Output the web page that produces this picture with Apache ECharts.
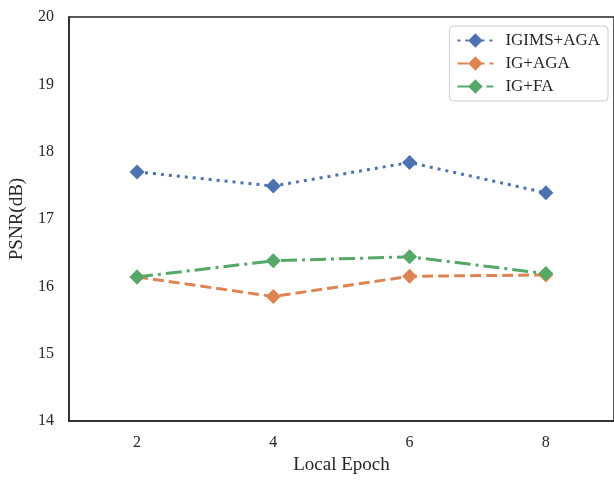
<!DOCTYPE html>
<html>
<head>
<meta charset="utf-8">
<script src="https://cdn.jsdelivr.net/npm/echarts@6/dist/echarts.min.js"></script>
<style>html,body{margin:0;padding:0;background:#fff}#c{width:614px;height:480px}</style>
</head>
<body>
<div id="c"></div>
<script>
const categories = ['2', '4', '6', '8'];
const igimsAga = [17.70, 17.49, 17.84, 17.39];
const igAga = [16.14, 15.85, 16.15, 16.17];
const igFa = [16.14, 16.38, 16.44, 16.19];
const yTicks = [14, 15, 16, 17, 18, 19, 20];

const font = 'Liberation Serif, Times New Roman, serif';
const axisColor = '#262626';

const chart = echarts.init(document.getElementById('c'));
chart.setOption({
  animation: false,
  backgroundColor: '#fff',
  textStyle: { fontFamily: font },
  grid: { left: 64, right: -2, top: 17, bottom: 51, show: true, borderColor: axisColor, borderWidth: 1.5 },
  legend: {
    right: 6, top: 26, orient: 'vertical',
    itemWidth: 36, itemHeight: 18, itemGap: 6,
    padding: [6, 8, 6, 7],
    borderColor: '#cccccc', borderWidth: 1, borderRadius: 4,
    backgroundColor: '#fff',
    textStyle: { fontFamily: font, fontSize: 17, color: axisColor, padding: [0, 0, 0, 7] },
    data: ['IGIMS+AGA', 'IG+AGA', 'IG+FA']
  },
  xAxis: {
    type: 'category', data: categories, boundaryGap: true,
    name: 'Local Epoch', nameLocation: 'middle', nameGap: 31,
    nameTextStyle: { fontFamily: font, fontSize: 19, color: axisColor },
    axisLine: { show: true, lineStyle: { color: axisColor, width: 1.5 } },
    axisTick: { show: false },
    axisLabel: { fontFamily: font, fontSize: 16, color: axisColor, margin: 14 },
    splitLine: { show: false }
  },
  yAxis: {
    type: 'value', min: yTicks[0], max: yTicks[yTicks.length - 1], interval: 1,
    name: 'PSNR(dB)', nameLocation: 'middle', nameGap: 38,
    nameTextStyle: { fontFamily: font, fontSize: 19, color: axisColor },
    axisLine: { show: true, lineStyle: { color: axisColor, width: 1.5 } },
    axisTick: { show: false },
    axisLabel: { fontFamily: font, fontSize: 16, color: axisColor, margin: 15 },
    splitLine: { show: false }
  },
  series: [
    { name: 'IGIMS+AGA', type: 'line', data: igimsAga, symbol: 'diamond', symbolSize: 15,
      itemStyle: { color: '#4C72B0' }, lineStyle: { width: 3, type: [3, 5], color: '#4C72B0' } },
    { name: 'IG+AGA', type: 'line', data: igAga, symbol: 'diamond', symbolSize: 15,
      itemStyle: { color: '#DD8452' }, lineStyle: { width: 3, type: [11, 5], color: '#DD8452' } },
    { name: 'IG+FA', type: 'line', data: igFa, symbol: 'diamond', symbolSize: 15,
      itemStyle: { color: '#55A868' }, lineStyle: { width: 3, type: [16, 5, 3, 5], color: '#55A868' } }
  ]
});
</script>
</body>
</html>
